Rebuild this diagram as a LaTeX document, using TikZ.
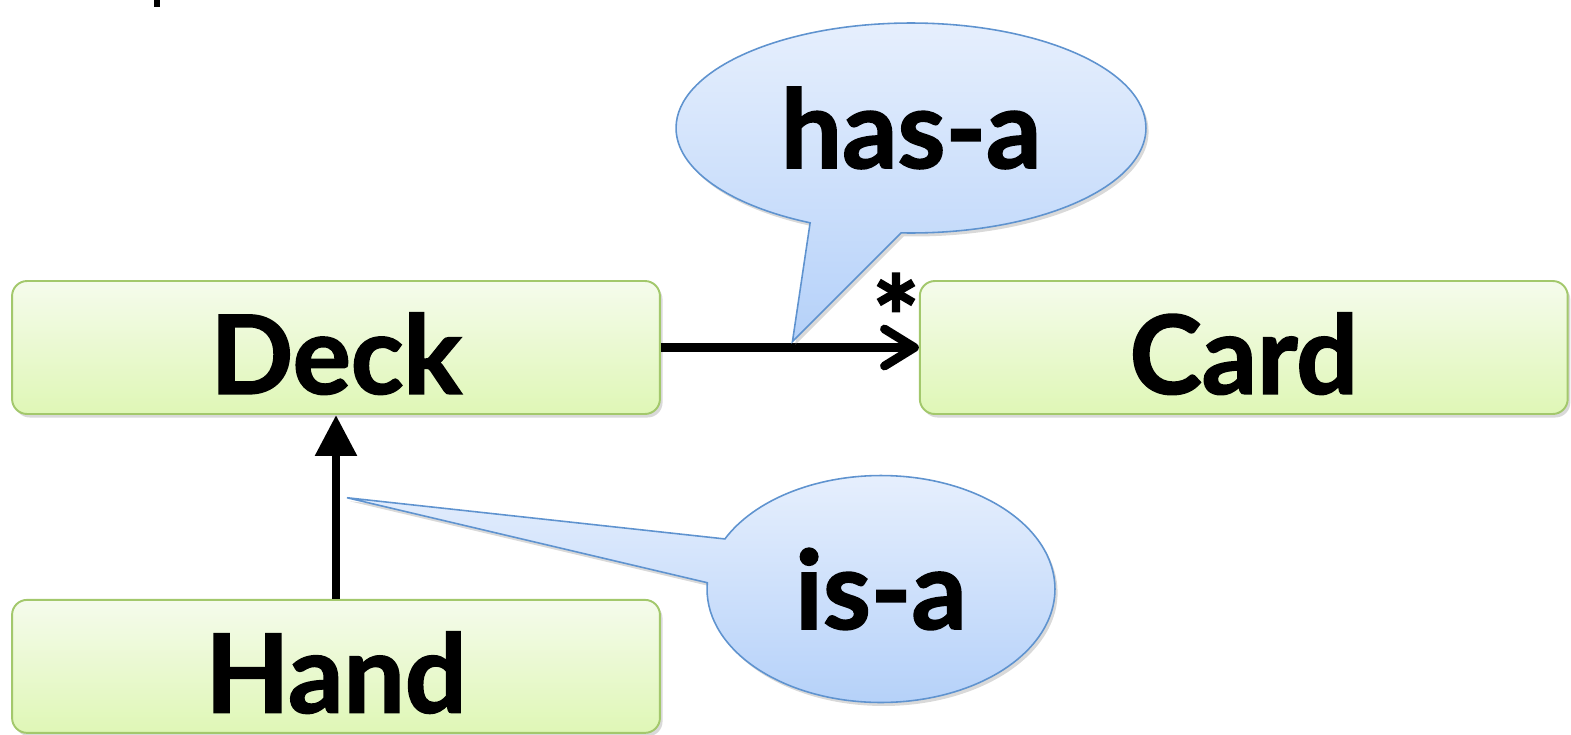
\documentclass[tikz,border=0pt]{standalone}
\usepackage{fontspec}
\setmainfont{Lato}[BoldFeatures={FakeBold=1.6}]
\usetikzlibrary{shapes.callouts, arrows.meta, positioning, shadows, calc}
\definecolor{boxtop}{HTML}{F5FBEC}
\definecolor{boxbottom}{HTML}{DFF7B6}
\definecolor{boxline}{HTML}{A3C86C}
\definecolor{bubbletop}{HTML}{E6EFFD}
\definecolor{bubblebottom}{HTML}{B5D1F9}
\definecolor{bubbleline}{HTML}{5F93CF}

\begin{document}
\begin{tikzpicture}[
    x=0.02cm, y=-0.02cm,
    classbox/.style={rectangle, rounded corners=0.3cm, draw=boxline, line width=1.1pt, top color=boxtop, bottom color=boxbottom, minimum width=12.96cm, minimum height=2.66cm, inner sep=0pt, text height=1.85cm, text depth=0pt, font=\fontsize{62}{64}\selectfont\bfseries, drop shadow={shadow xshift=1.5pt, shadow yshift=-2pt, opacity=0.3}},
    bubble/.style={ellipse callout, draw=bubbleline, line width=0.9pt, top color=bubbletop, bottom color=bubblebottom, inner sep=0pt, callout pointer arc=23, font=\fontsize{62}{64}\selectfont\bfseries, drop shadow={shadow xshift=1.5pt, shadow yshift=-2pt, opacity=0.3}},
    arrow/.style={line width=5pt}
]
    \useasboundingbox (0,0) rectangle (1571,734);
    \fill (154,0) rectangle (160,7);

    \node[classbox] (deck) at (336,347.5) {Deck};
    \node[classbox, right=5.16cm of deck] (card) {Card};
    \node[classbox, below=3.68cm of deck] (hand) {Hand};

    \draw[arrow, -{Straight Barb[length=0.6cm, width=0.74cm, round]}] (deck) -- (card);
    \draw[arrow, -{Triangle[length=0.82cm, width=0.8cm]}] (hand) -- (deck);
    \node[font=\fontsize{64}{64}\selectfont\bfseries] (mult) at (896,316) {*};

    \coordinate (hastip) at ($(deck.east)!0.51!(card.west)+(0,-6)$);
    \coordinate (istip) at ($(hand.north)!0.55!(deck.south)+(11,0)$);
    \node[bubble, minimum width=9.4cm, minimum height=4.2cm, callout absolute pointer={(hastip)}] (hasa) at (911,128) {has-a};
    \node[bubble, minimum width=6.96cm, minimum height=4.54cm, callout absolute pointer={(istip)}] (isa) at (881,589) {is-a};
\end{tikzpicture}
\end{document}
